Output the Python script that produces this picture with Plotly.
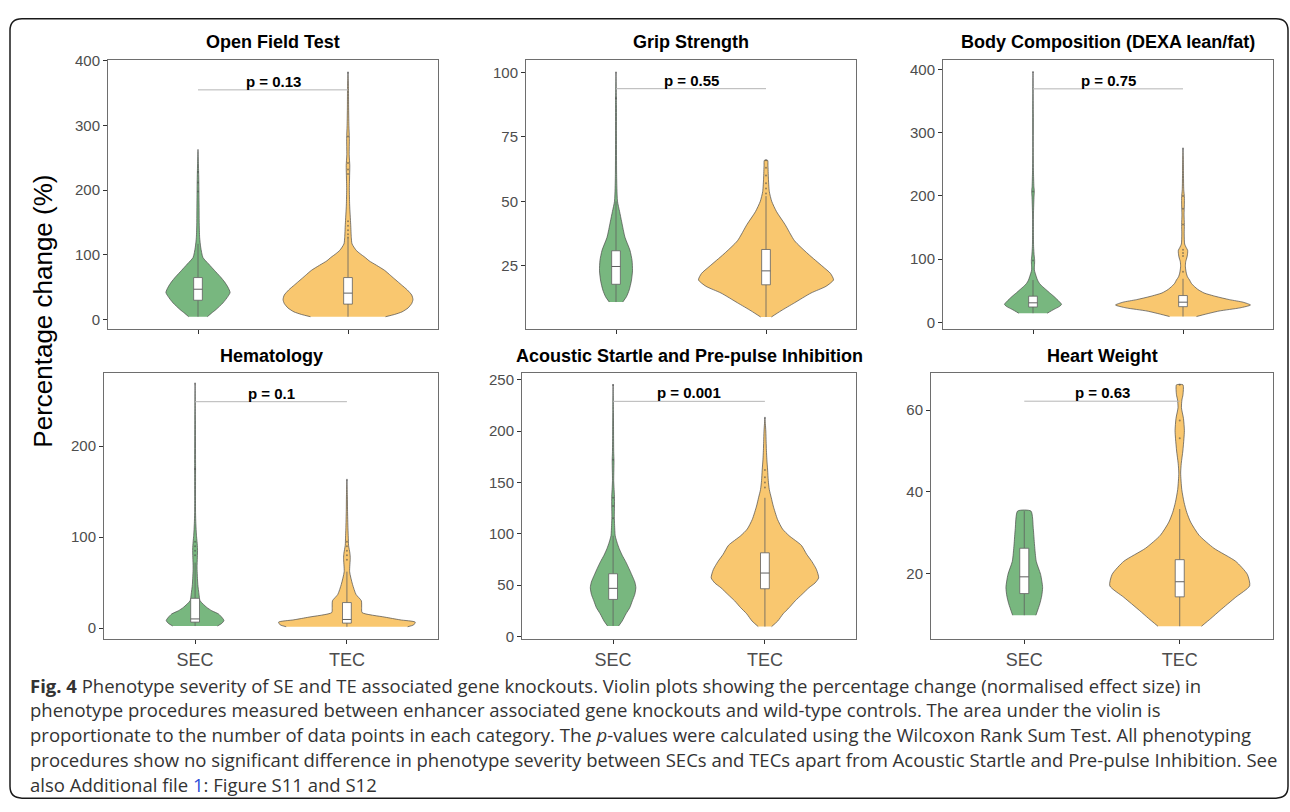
import plotly.graph_objects as go

W, H = 1290, 812

# ---------------- data ----------------
PANEL_TITLES = ["Open Field Test", "Grip Strength", "Body Composition (DEXA lean/fat)",
                "Hematology", "Acoustic Startle and Pre-pulse Inhibition", "Heart Weight"]
GROUPS = ["SEC", "TEC"]
P_LABELS = ["p = 0.13", "p = 0.55", "p = 0.75", "p = 0.1", "p = 0.001", "p = 0.63"]
P_LINE_Y = [355, 93.7, 369.5, 249, 229, 62.2]
Y_TICKS = [[0, 100, 200, 300, 400], [25, 50, 75, 100], [0, 100, 200, 300, 400],
           [0, 100, 200], [0, 50, 100, 150, 200, 250], [20, 40, 60]]

# violin profiles: value levels and half-widths (x units)
open_field_sec_y = [4.5, 10, 16, 26, 36, 42, 50, 58, 66, 76, 86, 96, 112, 127, 150, 180, 220, 263]
open_field_sec_w = [0.062, 0.09, 0.122, 0.167, 0.2, 0.214, 0.2, 0.178, 0.15, 0.11, 0.071, 0.033, 0.018, 0.011, 0.008, 0.007, 0.005, 0.0]
open_field_tec_y = [4.5, 8, 12, 18, 25, 31, 38, 46, 54, 61, 68, 76, 84, 91, 96, 102, 107, 117, 127, 147, 177, 202, 225, 238, 255, 280, 300, 330, 360, 382]
open_field_tec_w = [0.25, 0.31, 0.36, 0.40, 0.425, 0.433, 0.425, 0.395, 0.355, 0.32, 0.285, 0.245, 0.19, 0.14, 0.115, 0.08, 0.055, 0.027, 0.022, 0.018, 0.011, 0.009, 0.011, 0.012, 0.008, 0.009, 0.006, 0.004, 0.003, 0.0]

grip_sec_y = [10.9, 13, 15.6, 19, 23, 27, 31, 36, 42, 46, 50, 55, 61, 75, 87, 100]
grip_sec_w = [0.045, 0.07, 0.088, 0.102, 0.11, 0.107, 0.093, 0.06, 0.038, 0.024, 0.01, 0.006, 0.004, 0.003, 0.003, 0.0]
grip_tec_y = [5.1, 7.5, 10.6, 14.4, 17, 19.5, 22, 24.6, 29.6, 34.7, 41, 46, 50, 53.8, 59, 64, 65.9]
grip_tec_w = [0.036, 0.1, 0.19, 0.30, 0.40, 0.45, 0.43, 0.38, 0.28, 0.19, 0.127, 0.07, 0.038, 0.022, 0.016, 0.013, 0.011]

body_sec_y = [14.5, 20.7, 25, 28.5, 33, 41, 47, 52, 57, 62, 67, 72.5, 83, 90, 98, 105, 120, 135, 170, 200, 207, 215, 240, 264, 330, 396]
body_sec_w = [0.095, 0.14, 0.175, 0.19, 0.175, 0.14, 0.11, 0.086, 0.062, 0.042, 0.03, 0.022, 0.009, 0.01, 0.011, 0.008, 0.004, 0.003, 0.003, 0.007, 0.009, 0.006, 0.003, 0.002, 0.002, 0.0]
body_tec_y = [9.3, 13, 18, 23, 27.5, 32, 36, 41, 46.6, 52, 57, 62, 67, 72, 78, 88, 96, 103.6, 110, 114, 119, 124, 140, 155, 170, 186, 199, 210, 238, 260, 275]
body_tec_w = [0.09, 0.15, 0.24, 0.38, 0.45, 0.40, 0.31, 0.22, 0.14, 0.1, 0.075, 0.055, 0.044, 0.03, 0.022, 0.016, 0.018, 0.027, 0.031, 0.031, 0.02, 0.011, 0.008, 0.009, 0.007, 0.009, 0.009, 0.005, 0.003, 0.002, 0.0]

hema_sec_y = [2.2, 5, 8.3, 12, 15.5, 19, 22.7, 30, 37, 48, 66, 78, 87, 95, 102, 115, 127, 181, 228, 269]
hema_sec_w = [0.147, 0.175, 0.19, 0.175, 0.154, 0.11, 0.077, 0.033, 0.026, 0.018, 0.013, 0.015, 0.016, 0.013, 0.009, 0.005, 0.003, 0.003, 0.002, 0.0]
hema_tec_y = [1.4, 3.5, 6.5, 9, 12, 17, 22.7, 30, 37, 48, 62, 76.6, 82, 91, 100, 109, 130, 145, 163]
hema_tec_w = [0.40, 0.44, 0.45, 0.35, 0.25, 0.10, 0.097, 0.095, 0.06, 0.037, 0.018, 0.022, 0.02, 0.011, 0.009, 0.007, 0.004, 0.003, 0.0]

acoustic_sec_y = [10.2, 15, 22, 28, 34.7, 41, 47.4, 53, 60, 66, 72.8, 79, 85.6, 92, 98, 108, 117, 127, 136, 145, 152, 162, 171, 180, 200, 220, 245.5]
acoustic_sec_w = [0.037, 0.06, 0.085, 0.11, 0.127, 0.143, 0.15, 0.143, 0.123, 0.105, 0.083, 0.06, 0.04, 0.025, 0.014, 0.01, 0.008, 0.009, 0.009, 0.006, 0.004, 0.005, 0.006, 0.004, 0.003, 0.002, 0.0]
acoustic_tec_y = [9.5, 15, 22, 28, 34.7, 41, 47.4, 52, 57, 65, 72.8, 80, 88.7, 98, 104.6, 114, 127, 135, 143, 152, 162, 172, 181, 190, 200, 213]
acoustic_tec_w = [0.044, 0.085, 0.12, 0.16, 0.2, 0.245, 0.29, 0.33, 0.354, 0.34, 0.31, 0.275, 0.24, 0.16, 0.116, 0.083, 0.055, 0.042, 0.029, 0.022, 0.018, 0.013, 0.01, 0.008, 0.006, 0.0]

heart_sec_y = [9.8, 12.6, 14.5, 16.6, 19.8, 23, 27, 31, 35.3]
heart_sec_w = [0.075, 0.1, 0.112, 0.118, 0.105, 0.077, 0.066, 0.058, 0.043]
heart_tec_y = [7.1, 9, 11, 14.2, 17, 19.8, 23, 26.2, 29.4, 32.6, 35, 37.4, 40.6, 44.6, 47, 50, 53, 55, 58, 60.6, 62.5, 63.8, 66.2]
heart_tec_w = [0.14, 0.2, 0.26, 0.36, 0.45, 0.435, 0.36, 0.22, 0.124, 0.07, 0.045, 0.028, 0.013, 0.006, 0.01, 0.02, 0.027, 0.03, 0.024, 0.011, 0.014, 0.021, 0.021]

# box statistics per panel (SEC / TEC)
SEC_Q1 = [30, 17.8, 24.4, 6.5, 36, 15.1]
SEC_MED = [47, 24.7, 31, 10, 46.8, 19.2]
SEC_Q3 = [65, 30.8, 41.5, 32.7, 61, 26.2]
SEC_LO = [4.5, 10.9, 14.5, 2.2, 10.2, 9.8]
SEC_HI = [117, 50, 67, 72, 98, 35.3]
TEC_Q1 = [24, 17.6, 24.9, 5.4, 46.4, 14.3]
TEC_MED = [41, 23.0, 32, 9.4, 61.7, 18]
TEC_Q3 = [65, 31.3, 42.5, 28, 81.4, 23.4]
TEC_LO = [4.5, 5.1, 9.3, 1.4, 9.5, 7.1]
TEC_HI = [126, 52, 69, 62, 135, 35.8]

# outlier points (tiny dots inside the violin tails)
SEC_OUTLIERS = [[198, 212, 228], [90, 100], [98, 207, 396],
                [80, 85, 90, 95, 175, 269], [115, 127, 135, 172, 245], []]
TEC_OUTLIERS = [[127, 132, 138, 145, 152, 225, 232, 242, 283, 382],
                [53, 55, 57, 60, 63, 65.9], [80, 105, 110, 115, 155, 180, 200, 275],
                [75, 80, 85, 90, 95, 163], [145, 150, 155, 162, 213], [53.1, 57.5, 66.2]]

CAPTION_LINES = [
    "<b>Fig. 4</b> Phenotype severity of SE and TE associated gene knockouts. Violin plots showing the percentage change (normalised effect size) in",
    "phenotype procedures measured between enhancer associated gene knockouts and wild-type controls. The area under the violin is",
    "proportionate to the number of data points in each category. The <i>p</i>-values were calculated using the Wilcoxon Rank Sum Test. All phenotyping",
    "procedures show no significant difference in phenotype severity between SECs and TECs apart from Acoustic Startle and Pre-pulse Inhibition. See",
    "also Additional file <span style='color:#2d4fd8'>1</span>: Figure S11 and S12",
]

PROFILES = [
    ((open_field_sec_y, open_field_sec_w), (open_field_tec_y, open_field_tec_w)),
    ((grip_sec_y, grip_sec_w), (grip_tec_y, grip_tec_w)),
    ((body_sec_y, body_sec_w), (body_tec_y, body_tec_w)),
    ((hema_sec_y, hema_sec_w), (hema_tec_y, hema_tec_w)),
    ((acoustic_sec_y, acoustic_sec_w), (acoustic_tec_y, acoustic_tec_w)),
    ((heart_sec_y, heart_sec_w), (heart_tec_y, heart_tec_w)),
]

# ---------------- layout / style ----------------
COLORS = ["#78B77F", "#F9C76F"]
OUTLINE = "#4a4a4a"
BOX_LINE = "#5f5f5f"
BOX_HALF = 0.029
FONT = "Liberation Sans, Arial, sans-serif"
X_PX = [(108, 438), (526, 856), (943, 1273), (104, 438), (522, 856), (931, 1273)]
Y_PX = [(53, 327), (371, 642)]
Y_RANGES = [[-15, 401], [0.3, 104.8], [-11, 415], [-12, 281], [-2.5, 257], [4.0, 69.2]]
TITLE_Y = [35, 354]

fig = go.Figure()
layout = dict(width=W, height=H, margin=dict(l=0, r=0, t=0, b=0), autosize=False,
              paper_bgcolor="white", plot_bgcolor="white", showlegend=False)
annotations = []

for i in range(6):
    r = i // 3
    ax = "" if i == 0 else str(i + 1)
    xr, yr = "x" + ax, "y" + ax
    stats = [(SEC_Q1[i], SEC_MED[i], SEC_Q3[i], SEC_LO[i], SEC_HI[i]),
             (TEC_Q1[i], TEC_MED[i], TEC_Q3[i], TEC_LO[i], TEC_HI[i])]
    outliers = [SEC_OUTLIERS[i], TEC_OUTLIERS[i]]
    for g, (ys, ws) in enumerate(PROFILES[i]):
        c = g + 1
        xs = [c + w for w in ws] + [c - w for w in reversed(ws)]
        yy = list(ys) + list(reversed(ys))
        fig.add_trace(go.Scatter(x=xs, y=yy, mode="lines", fill="toself",
                                 fillcolor=COLORS[g],
                                 line=dict(color=OUTLINE, width=0.7, shape="spline", smoothing=0.6),
                                 xaxis=xr, yaxis=yr, hoverinfo="skip"))
    for g, (q1, med, q3, lo, hi) in enumerate(stats):
        c = g + 1
        fig.add_trace(go.Scatter(x=[c, c, None, c, c], y=[lo, q1, None, q3, hi], mode="lines",
                                 line=dict(color=BOX_LINE, width=0.8), xaxis=xr, yaxis=yr,
                                 hoverinfo="skip"))
        fig.add_trace(go.Scatter(x=[c - BOX_HALF, c + BOX_HALF, c + BOX_HALF, c - BOX_HALF, c - BOX_HALF],
                                 y=[q1, q1, q3, q3, q1], mode="lines", fill="toself",
                                 fillcolor="white", line=dict(color=BOX_LINE, width=0.8),
                                 xaxis=xr, yaxis=yr, hoverinfo="skip"))
        fig.add_trace(go.Scatter(x=[c - BOX_HALF, c + BOX_HALF], y=[med, med], mode="lines",
                                 line=dict(color=BOX_LINE, width=1), xaxis=xr, yaxis=yr,
                                 hoverinfo="skip"))
        if outliers[g]:
            fig.add_trace(go.Scatter(x=[c] * len(outliers[g]), y=outliers[g], mode="markers",
                                     marker=dict(size=2, color="rgba(70,70,70,0.55)"),
                                     xaxis=xr, yaxis=yr, hoverinfo="skip"))
    fig.add_trace(go.Scatter(x=[1, 2], y=[P_LINE_Y[i], P_LINE_Y[i]], mode="lines",
                             line=dict(color="#b5b5b5", width=1), xaxis=xr, yaxis=yr,
                             hoverinfo="skip"))
    x0, x1 = X_PX[i]
    y0, y1 = Y_PX[r]
    layout["xaxis" + ax] = dict(domain=[x0 / W, x1 / W], range=[0.4, 2.6], tickvals=[1, 2],
                                ticktext=GROUPS, showticklabels=(r == 1),
                                showline=True, mirror=True, linecolor="#6e6e6e", linewidth=1,
                                ticks="outside", ticklen=4, tickcolor="#333333", tickwidth=1,
                                showgrid=False, zeroline=False, anchor=yr,
                                tickfont=dict(family=FONT, size=18, color="#4d4d4d"))
    layout["yaxis" + ax] = dict(domain=[1 - y1 / H, 1 - y0 / H], range=Y_RANGES[i],
                                tickvals=Y_TICKS[i], showline=True, mirror=True,
                                linecolor="#6e6e6e", linewidth=1, ticks="outside", ticklen=4,
                                tickcolor="#333333", tickwidth=1, showgrid=False,
                                zeroline=False, anchor=xr,
                                tickfont=dict(family=FONT, size=15, color="#4d4d4d"))
    annotations.append(dict(text="<b>" + PANEL_TITLES[i] + "</b>", xref="paper", yref="paper",
                            x=(x0 + x1) / 2 / W, y=1 - TITLE_Y[r] / H, xanchor="center",
                            yanchor="middle", showarrow=False,
                            font=dict(family=FONT, size=18, color="black")))
    annotations.append(dict(text="<b>" + P_LABELS[i] + "</b>", xref=xr, yref=yr, x=1.5,
                            y=P_LINE_Y[i], xanchor="center", yanchor="bottom", yshift=-2,
                            showarrow=False, font=dict(family=FONT, size=15, color="black")))

annotations.append(dict(text="Percentage change (%)", xref="paper", yref="paper",
                        x=43 / W, y=1 - 309 / H, textangle=-90, xanchor="center",
                        yanchor="middle", showarrow=False,
                        font=dict(family=FONT, size=26, color="black")))

for k, line in enumerate(CAPTION_LINES):
    annotations.append(dict(text=line, xref="paper", yref="paper", x=28 / W,
                            y=1 - (689 + 25.2 * k) / H, xanchor="left", yanchor="middle",
                            showarrow=False,
                            font=dict(family="Open Sans, Noto Sans, sans-serif", size=18.5,
                                      color="#333333")))

# rounded outer frame
bx0, by0, bx1, by1, rad = 10, 11, 1288, 804, 12
def px(x):
    return x / W
def py(y):
    return 1 - y / H
path = (f"M {px(bx0 + rad)},{py(by0)} L {px(bx1 - rad)},{py(by0)} "
        f"Q {px(bx1)},{py(by0)} {px(bx1)},{py(by0 + rad)} L {px(bx1)},{py(by1 - rad)} "
        f"Q {px(bx1)},{py(by1)} {px(bx1 - rad)},{py(by1)} L {px(bx0 + rad)},{py(by1)} "
        f"Q {px(bx0)},{py(by1)} {px(bx0)},{py(by1 - rad)} L {px(bx0)},{py(by0 + rad)} "
        f"Q {px(bx0)},{py(by0)} {px(bx0 + rad)},{py(by0)} Z")
layout["shapes"] = [dict(type="path", path=path, xref="paper", yref="paper",
                         line=dict(color="#1a1a1a", width=1.5))]
layout["annotations"] = annotations
fig.update_layout(**layout)
fig.write_html("out.html", config={"responsive": False})
